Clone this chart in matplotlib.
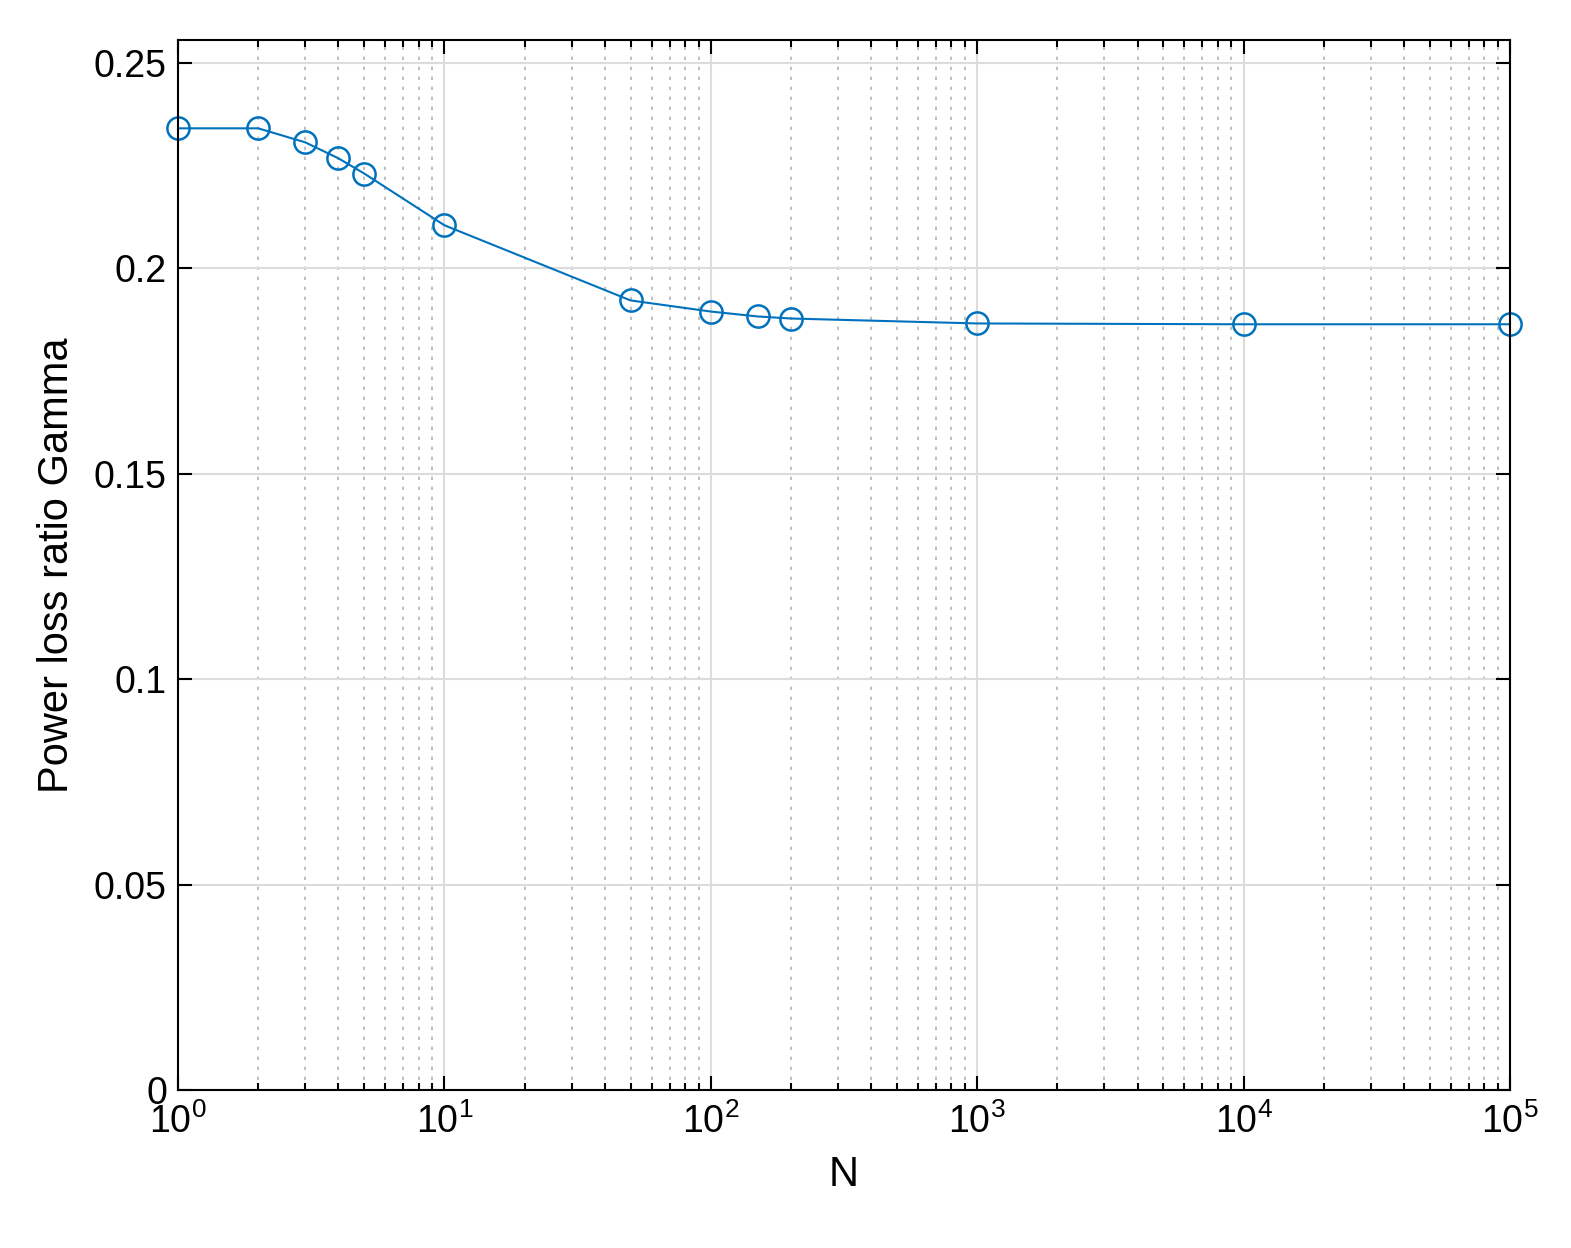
import matplotlib
matplotlib.use("Agg")
import matplotlib.pyplot as plt

plt.rcParams["font.family"] = ["Liberation Sans", "DejaVu Sans"]

N = [1, 2, 3, 4, 5, 10, 50, 100, 150, 200, 1000, 10000, 100000]
gamma = [0.2341, 0.2341, 0.2307, 0.2268, 0.2231, 0.2105, 0.1922, 0.1895,
         0.1883, 0.1878, 0.1866, 0.1864, 0.1864]

fig = plt.figure(figsize=(15.71, 12.48), dpi=100)
ax = fig.add_axes([178 / 1571, 1 - 1090 / 1248, (1510 - 178) / 1571, (1090 - 40) / 1248])
ax.plot(N, gamma, "-o", color="#0072BD", lw=1.5, ms=16, mfc="none", mew=1.8, clip_on=False)
ax.set_xscale("log")
ax.set_xlim(1, 1e5)
ax.set_ylim(0, 0.2556)
ax.set_yticks([0, 0.05, 0.1, 0.15, 0.2, 0.25])
ax.set_yticklabels(["0", "0.05", "0.1", "0.15", "0.2", "0.25"])
ax.grid(True, which="major", color="#dcdcdc", lw=1.5)
ax.grid(True, which="minor", axis="x", color="#b4b4b4", lw=1.2, ls=(0, (2, 4)))
ax.tick_params(which="both", direction="in", top=True, right=True, labelsize=27, width=1.5)
ax.tick_params(which="major", length=10)
ax.tick_params(which="minor", length=5)
ax.tick_params(axis="x", pad=10)
ax.tick_params(axis="y", pad=8)
for s in ax.spines.values():
    s.set_linewidth(1.5)
ax.set_axisbelow(True)
ax.set_xlabel("N", fontsize=30, labelpad=10)
ax.set_ylabel("Power loss ratio Gamma", fontsize=30, labelpad=12)
fig.savefig("out.png", dpi=100)
